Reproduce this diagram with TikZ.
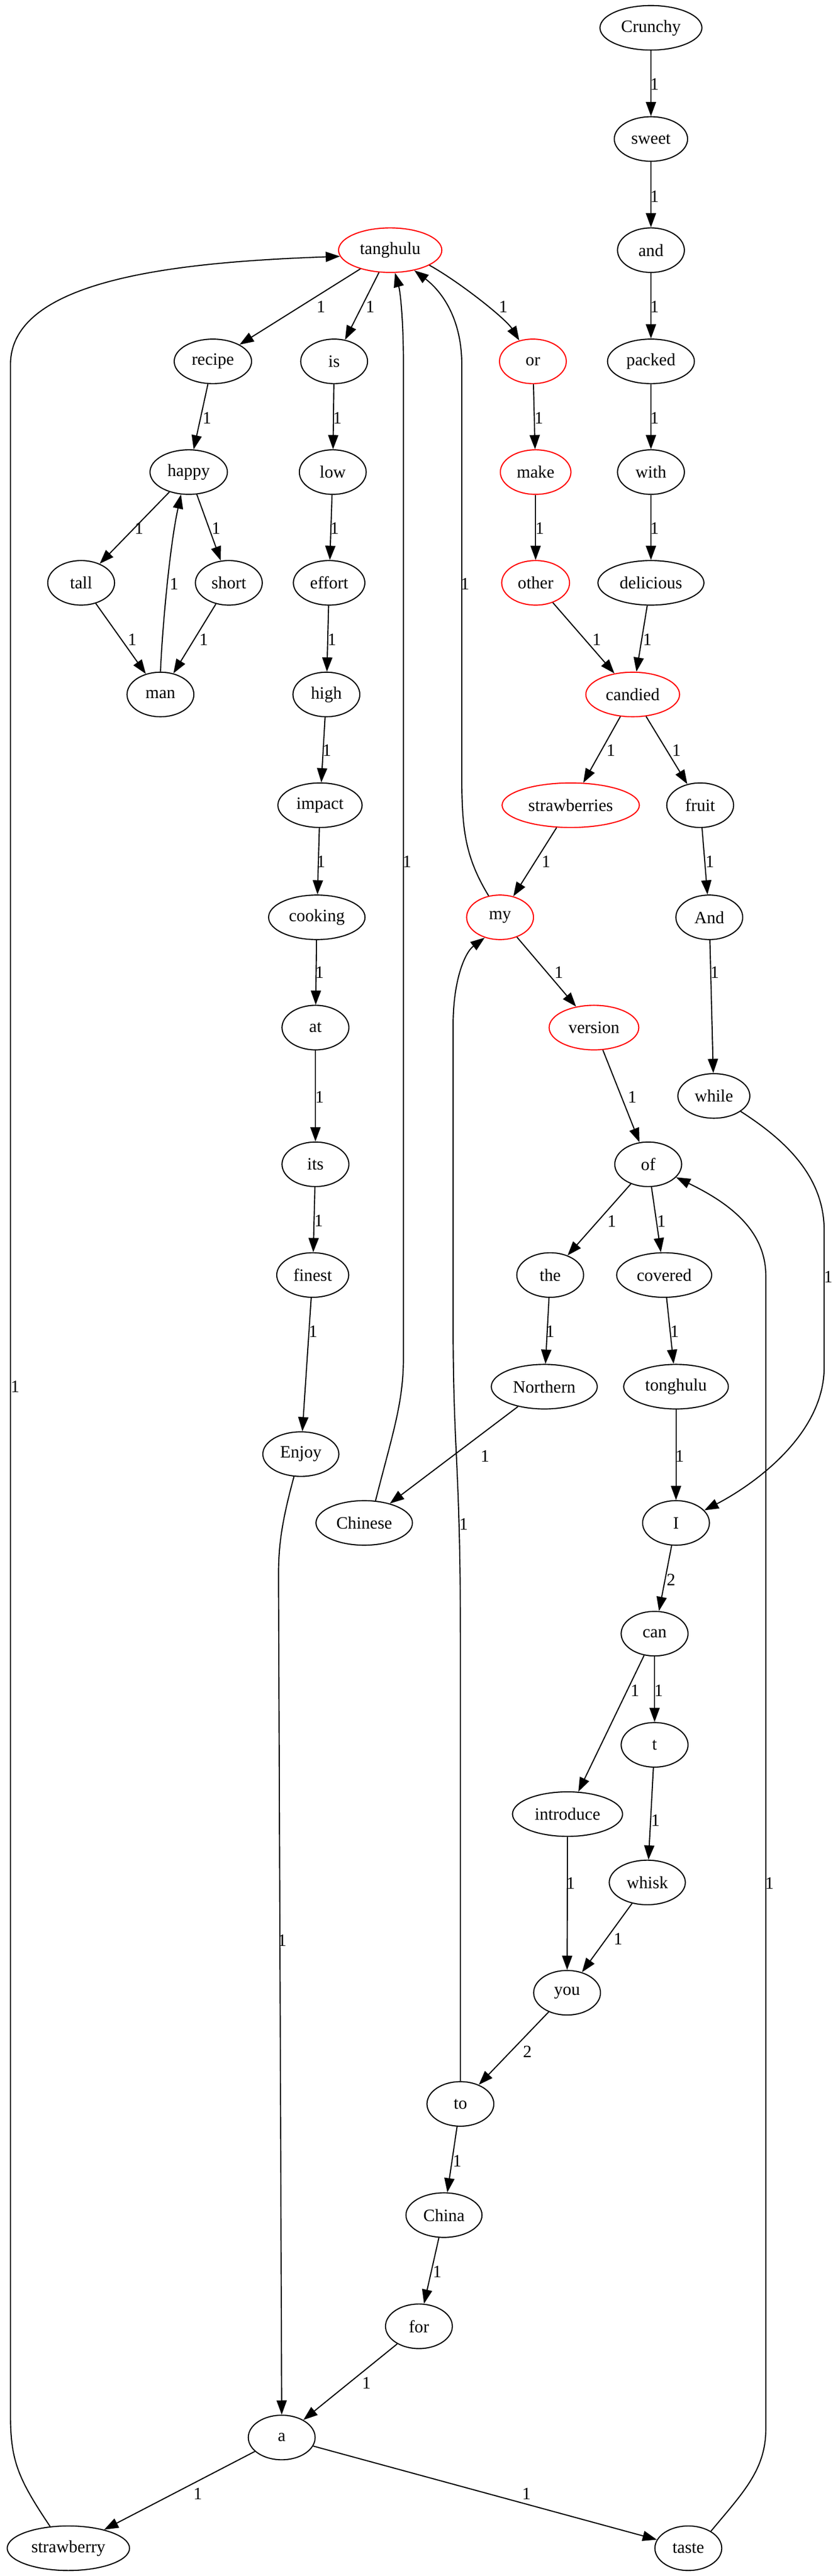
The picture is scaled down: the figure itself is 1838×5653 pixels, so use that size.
\documentclass[tikz,border=0pt]{standalone}
\usepackage{fontspec}
\setmainfont{Liberation Serif}
\usetikzlibrary{arrows.meta,shapes.geometric}

\begin{document}
\begin{tikzpicture}[
  x=0.005102in,y=-0.005102in,
  word/.style={
    draw,
    ellipse,
    line width=0.9pt,
    inner xsep=5pt,
    inner ysep=2pt,
    minimum width=54pt,
    minimum height=36pt,
    font=\fontsize{14}{16}\selectfont,
  },
  hot/.style={word,draw=red},
  link/.style={-{Triangle[length=11.5pt,width=8.2pt]},line width=0.9pt},
  wt/.style={font=\fontsize{14}{16}\selectfont,inner sep=0pt},
  ]
  \useasboundingbox (0,0) rectangle (1838,5653);
  % words
  \foreach \w/\x/\y in
  {Crunchy/1428/61,sweet/1428/305,and/1428/549,recipe/467/793,is/733/793,
   packed/1428/793,happy/414/1036,low/730/1036,with/1428/1036,tall/178/1279,
   short/502/1279,effort/722/1279,delicious/1428/1279,man/352/1524,
   high/716/1524,impact/702/1767,fruit/1536/1767,cooking/695/2013,
   And/1556/2013,at/692/2255,while/1566/2405,its/692/2555,of/1422/2555,
   finest/686/2798,the/1207/2798,covered/1457/2798,Northern/1194/3043,
   tonghulu/1483/3043,Enjoy/660/3191,Chinese/799/3342,I/1483/3342,
   can/1436/3585,t/1436/3829,introduce/1245/3981,whisk/1420/4131,
   you/1244/4373,to/1010/4617,China/974/4861,for/919/5105,a/618/5349,
   strawberry/150/5592,taste/1510/5592}
  {
    \node[word] (\w) at (\x,\y) {\w};
  }
  % red words
  \foreach \w/\x/\y in
  {tanghulu/856/549,or/1169/793,make/1175/1036,other/1175/1279,
   candied/1388/1524,strawberries/1252/1767,my/1097/2013,version/1303/2255}
  {
    \node[hot] (\w) at (\x,\y) {\w};
  }
  % straight links
  \foreach \a/\b/\n/\lx/\ly in
  {Crunchy/sweet/1/1436/185,sweet/and/1/1436/431,and/packed/1/1436/673,
   packed/with/1/1436/917,with/delicious/1/1436/1159,
   delicious/candied/1/1420/1403,tanghulu/recipe/1/704/673,
   tanghulu/is/1/812/673,recipe/happy/1/454/917,is/low/1/740/917,
   or/make/1/1182/917,make/other/1/1184/1159,other/candied/1/1309/1403,
   happy/tall/1/305/1159,happy/short/1/474/1159,tall/man/1/290/1403,
   short/man/1/447/1403,low/effort/1/734/1159,effort/high/1/728/1403,
   high/impact/1/717/1647,impact/cooking/1/704/1891,
   candied/strawberries/1/1340/1647,candied/fruit/1/1484/1647,
   strawberries/my/1/1198/1891,fruit/And/1/1557/1891,cooking/at/1/701/2134,
   at/its/1/701/2408,its/finest/1/699/2679,finest/Enjoy/1/687/2922,
   my/version/1/1226/2134,version/of/1/1387/2408,And/while/1/1568/2134,
   of/the/1/1342/2680,of/covered/1/1451/2680,the/Northern/1/1207/2922,
   covered/tonghulu/1/1480/2922,Northern/Chinese/1/1064/3195,
   tonghulu/I/1/1491/3195,I/can/2/1472/3467,can/introduce/1/1393/3710,
   can/t/1/1445/3710,t/whisk/1/1438/3995,introduce/you/1/1252/4133,
   whisk/you/1/1356/4255,you/to/2/1157/4502,to/China/1/1003/4742,
   China/for/1/959/4985,for/a/1/804/5229,a/strawberry/1/434/5473,
   a/taste/1/1155/5473}
  {
    \draw[link] (\a) -- (\b) node[wt] at (\lx,\ly) {\n};
  }
  % curved links
  \draw[link] (strawberry.130) .. controls (40,5440) and (23,5400) .. (23,5300)
    -- (23,800) .. controls (23,610) and (400,575) .. (tanghulu.187)
    node[wt] at (33,3043) {1};
  \draw[link] (Chinese.63) .. controls (860,3150) and (885,3080) .. (885,2980)
    -- (885,800) .. controls (885,700) and (878,640) .. (tanghulu.-78)
    node[wt] at (893,1891) {1};
  \draw[link] (my.118) .. controls (1020,1880) and (1013,1820) .. (1013,1700)
    -- (1013,800) .. controls (1013,700) and (970,640) .. (tanghulu.-40)
    node[wt] at (1020,1281) {1};
  \draw[link] (tanghulu.-21) .. controls (1010,620) and (1110,700) .. (or.123)
    node[wt] at (1104,673) {1};
  \draw[link] (man.north) .. controls (356,1380) and (372,1200) .. (happy.251)
    node[wt] at (382,1281) {1};
  \draw[link] (while.-30) .. controls (1720,2500) and (1808,2580) .. (1808,2700)
    -- (1808,3000) .. controls (1808,3150) and (1650,3260) .. (I.24)
    node[wt] at (1817,2802) {1};
  \draw[link] (taste.37) .. controls (1630,5470) and (1680,5420) .. (1680,5330)
    -- (1680,2800) .. controls (1680,2700) and (1600,2640) .. (of.-25)
    node[wt] at (1688,4133) {1};
  \draw[link] (to.north) -- (1010,3600) .. controls (1010,3200) and (994,3200) .. (994,2900)
    -- (994,2250) .. controls (994,2150) and (1020,2090) .. (my.233)
    node[wt] at (1017,3345) {1};
  \draw[link] (Enjoy.253) .. controls (615,3350) and (611,3400) .. (611,3460)
    -- (a.north)
    node[wt] at (619,4258) {1};
\end{tikzpicture}
\end{document}
